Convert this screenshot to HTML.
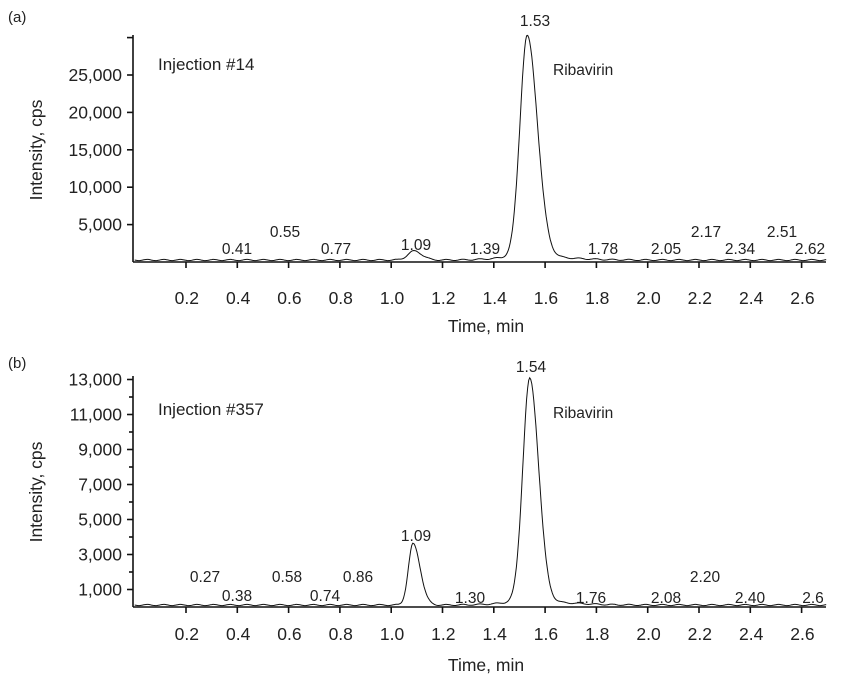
<!DOCTYPE html>
<html><head><meta charset="utf-8"><style>
body{margin:0;background:#fff}
svg text{font-family:"Liberation Sans",Arial,sans-serif;fill:#222}
</style></head><body>
<svg id="s" width="842" height="681" viewBox="0 0 842 681" xmlns="http://www.w3.org/2000/svg">
<text x="8" y="22" font-size="15">(a)</text>
<text x="8" y="368" font-size="15">(b)</text>
<g font-size="17.5" text-anchor="middle">
<text transform="translate(42,150) rotate(-90)">Intensity, cps</text>
<text transform="translate(42,492) rotate(-90)">Intensity, cps</text>
<text x="486" y="332">Time, min</text>
<text x="486" y="671">Time, min</text>
</g>
<text x="158" y="70" font-size="17">Injection #14</text>
<text x="158" y="415" font-size="17">Injection #357</text>
<g font-size="15.5" text-anchor="middle">
<text x="237" y="254">0.41</text><text x="285" y="237">0.55</text><text x="336" y="254">0.77</text>
<text x="416" y="250">1.09</text><text x="485" y="254">1.39</text><text x="535" y="26">1.53</text>
<text x="603" y="254">1.78</text><text x="666" y="254">2.05</text><text x="706" y="237">2.17</text>
<text x="740" y="254">2.34</text><text x="782" y="237">2.51</text><text x="810" y="254">2.62</text>
<text x="205" y="582">0.27</text><text x="237" y="601">0.38</text><text x="287" y="582">0.58</text>
<text x="325" y="601">0.74</text><text x="358" y="582">0.86</text><text x="416" y="541">1.09</text>
<text x="470" y="603">1.30</text><text x="531" y="372">1.54</text><text x="591" y="603">1.76</text>
<text x="666" y="603">2.08</text><text x="705" y="582">2.20</text><text x="750" y="603">2.40</text>
<text x="813" y="603">2.6</text>
</g>
<text x="553" y="75" font-size="15.5">Ribavirin</text>
<text x="553" y="418" font-size="15.5">Ribavirin</text>
<g id="ax" stroke="#111" fill="none" stroke-width="1.6"></g>
<g id="tr" stroke="#111" fill="none" stroke-width="1"></g>
<g id="lb" font-size="17.5" text-anchor="end"></g>
</svg>
<script>
const NS="http://www.w3.org/2000/svg";
function el(p,t,a,txt){const e=document.createElementNS(NS,t);for(const k in a)e.setAttribute(k,a[k]);if(txt)e.textContent=txt;document.getElementById(p).appendChild(e);}
const X=t=>186+(t-0.2)*256.5;
function panel(y0,top,ppu,yticks,minor,labs,peaks,xlab){
 el("ax","line",{x1:133,y1:top,x2:133,y2:y0});
 el("ax","line",{x1:133,y1:y0,x2:826,y2:y0});
 for(let v of yticks){const y=y0-v*ppu;el("ax","line",{x1:127,y1:y,x2:133,y2:y});}
 for(let v of minor){const y=y0-v*ppu;el("ax","line",{x1:129,y1:y,x2:133,y2:y});}
 for(const [v,s] of labs){el("lb","text",{x:122,y:y0-v*ppu+6},s);}
 for(let i=1;i<=13;i++){const t=i*0.2,x=X(t);el("ax","line",{x1:x,y1:y0,x2:x,y2:y0+6});
  el("lb","text",{x:x+13,y:xlab},t.toFixed(1));}
 let d="";
 for(let t=0;t<=2.7;t+=0.004){let v=0;for(const [c,h,sl,sr] of peaks){const s=t<c?sl:sr;v+=h*Math.exp(-0.5*((t-c)/s)**2);}
  const y=y0-2-v*ppu+Math.sin(t*97)*0.6;d+=(d?"L":"M")+X(t).toFixed(1)+" "+y.toFixed(1);}
 el("tr","path",{d:d});
}
panel(262,35,37.4/5000,[5000,10000,15000,20000,25000,30000],[],[[5000,"5,000"],[10000,"10,000"],[15000,"15,000"],[20000,"20,000"],[25000,"25,000"]],
 [[1.53,29500,0.028,0.04],[1.09,1200,0.025,0.03],[1.53,500,0.1,0.15]],304);
panel(607,376,17.5/1000,[1000,3000,5000,7000,9000,11000,13000],[2000,4000,6000,8000,10000,12000],[[1000,"1,000"],[3000,"3,000"],[5000,"5,000"],[7000,"7,000"],[9000,"9,000"],[11000,"11,000"],[13000,"13,000"]],
 [[1.54,12750,0.027,0.035],[1.085,3500,0.018,0.028],[1.54,200,0.1,0.15]],640);
</script>
</body></html>
